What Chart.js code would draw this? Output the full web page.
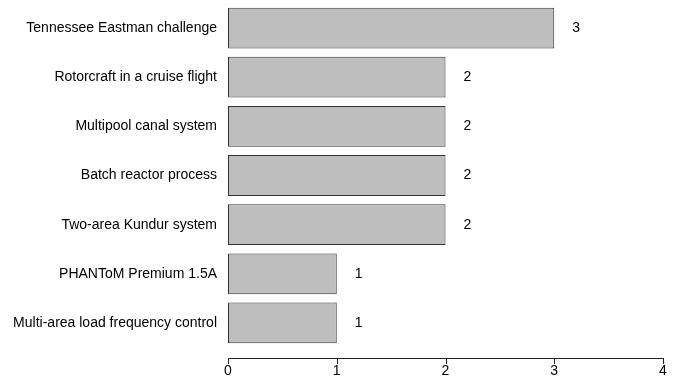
<!DOCTYPE html>
<html>
<head>
<meta charset="utf-8">
<script src="https://cdn.jsdelivr.net/npm/chart.js@4/dist/chart.umd.min.js"></script>
<style>
  html, body { margin: 0; padding: 0; background: #fff; }
  #wrap { width: 675px; height: 381px; }
</style>
</head>
<body>
<div id="wrap"><canvas id="chart" width="675" height="381"></canvas></div>
<script>
const categories = [
    'Tennessee Eastman challenge',
    'Rotorcraft in a cruise flight',
    'Multipool canal system',
    'Batch reactor process',
    'Two-area Kundur system',
    'PHANToM Premium 1.5A',
    'Multi-area load frequency control'
];
const counts = [3, 2, 2, 2, 2, 1, 1];
const xTicks = [0, 1, 2, 3, 4];

Chart.defaults.font.family = '"Liberation Sans", Arial, Helvetica, sans-serif';
Chart.defaults.font.size = 14;
Chart.defaults.color = '#000';

// R-style detached x axis, drawn a little below the bars
const detachedAxis = {
    id: 'detachedAxis',
    afterDraw(chart) {
        const ctx = chart.ctx;
        const x = chart.scales.x;
        const y0 = Math.round(chart.chartArea.bottom + 10);
        ctx.save();
        ctx.strokeStyle = '#222';
        ctx.lineWidth = 1;
        ctx.beginPath();
        ctx.moveTo(x.getPixelForValue(xTicks[0]), y0 + 0.5);
        ctx.lineTo(x.getPixelForValue(xTicks[xTicks.length - 1]), y0 + 0.5);
        for (let i = 0; i < xTicks.length; i++) {
            const px = Math.round(x.getPixelForValue(xTicks[i])) + 0.5;
            ctx.moveTo(px, y0);
            ctx.lineTo(px, y0 + 6);
        }
        ctx.stroke();
        ctx.restore();
    }
};

// count printed to the right of each bar
const barValues = {
    id: 'barValues',
    afterDatasetsDraw(chart) {
        const ctx = chart.ctx;
        const meta = chart.getDatasetMeta(0);
        ctx.save();
        ctx.fillStyle = '#000';
        ctx.font = '14px "Liberation Sans", Arial, sans-serif';
        ctx.textAlign = 'center';
        ctx.textBaseline = 'middle';
        meta.data.forEach((bar, i) => {
            ctx.fillText(String(counts[i]), bar.x + 22, bar.y);
        });
        ctx.restore();
    }
};

function noPadding(scale) {
    scale.paddingTop = 0;
    scale.paddingBottom = 0;
    scale.paddingLeft = 0;
    scale.paddingRight = 0;
}

new Chart(document.getElementById('chart').getContext('2d'), {
    type: 'bar',
    data: {
        labels: categories,
        datasets: [{
            data: counts,
            backgroundColor: '#bebebe',
            borderColor: '#333',
            borderWidth: 1,
            borderSkipped: false,
            categoryPercentage: 1,
            barPercentage: 0.83
        }]
    },
    options: {
        indexAxis: 'y',
        responsive: false,
        animation: false,
        layout: { padding: { top: 3.5, right: 12, bottom: 0, left: 0 } },
        plugins: {
            legend: { display: false },
            tooltip: { enabled: false }
        },
        scales: {
            x: {
                min: 0,
                max: 4,
                afterBuildTicks(scale) {
                    scale.ticks = xTicks.map(v => ({ value: v }));
                },
                grid: { display: false, drawTicks: false },
                border: { display: false },
                ticks: { padding: 15, maxRotation: 0 },
                afterFit(scale) {
                    scale.height = 33.5;
                    noPadding(scale);
                }
            },
            y: {
                grid: { display: false, drawTicks: false },
                border: { display: false },
                ticks: { padding: 11 },
                afterFit(scale) {
                    scale.width = 228;
                    noPadding(scale);
                }
            }
        }
    },
    plugins: [detachedAxis, barValues]
});
</script>
</body>
</html>
